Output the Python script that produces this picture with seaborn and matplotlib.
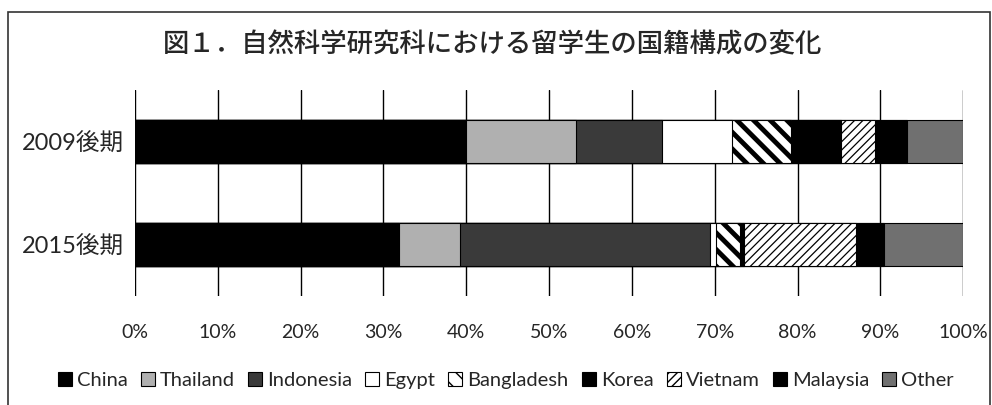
import pandas as pd
import seaborn as sns
import matplotlib.pyplot as plt
from matplotlib.patches import Rectangle


sns.set_theme(style='white')
plt.rcParams['font.family'] = ['Lato', 'Noto Sans CJK JP', 'DejaVu Sans']

periods = ['2009後期', '2015後期']
countries = ['China', 'Thailand', 'Indonesia', 'Egypt', 'Bangladesh',
             'Korea', 'Vietnam', 'Malaysia', 'Other']
share_2009 = [40.0, 13.2, 10.4, 8.5, 7.1, 6.0, 4.1, 3.9, 6.8]
share_2015 = [31.9, 7.3, 30.2, 0.8, 2.9, 0.4, 13.5, 3.4, 9.6]

colors = ['black', '#b0b0b0', '#3a3a3a', 'white', 'white',
          'black', 'white', 'black', '#707070']
hatches = [None, None, None, None, '\\\\', None, '////', None, None]
hatch_lw = [1, 1, 1, 1, 3.5, 1, 0.9, 1, 1]

df = pd.DataFrame({'period': periods})
cum = [0.0, 0.0]
for i, c in enumerate(countries):
    cum = [cum[0] + share_2009[i], cum[1] + share_2015[i]]
    df[c] = cum

fig = plt.figure(figsize=(9.92, 4.05), dpi=100)
ax = fig.add_axes([0.136, 0.269, 0.835, 0.509])

# stacked bars: draw cumulative totals from the longest to the shortest
handles = {}
for i in reversed(range(len(countries))):
    c = countries[i]
    with plt.rc_context({'hatch.linewidth': hatch_lw[i], 'hatch.color': 'black'}):
        sns.barplot(data=df, x=c, y='period', orient='h', color=colors[i],
                    saturation=1, width=0.42, edgecolor='black', linewidth=0.8,
                    hatch=hatches[i], ax=ax)
    cont = ax.containers[-1]
    for p in cont:
        if hasattr(p, 'set_hatch_linewidth'):
            p.set_hatch_linewidth(hatch_lw[i])
    handles[c] = cont.patches[0]

ax.set_xlim(0, 100)
ax.set_ylim(1.5, -0.5)
ax.set_xticks(range(0, 101, 10))
ax.set_xticklabels([f'{v}%' for v in range(0, 101, 10)])
ax.set_xlabel('')
ax.set_ylabel('')
ax.xaxis.grid(True, color='black', linewidth=1.0)
ax.set_axisbelow(True)
for s in ax.spines.values():
    s.set_visible(False)
ax.tick_params(axis='x', length=0, pad=20, labelsize=14)
ax.tick_params(axis='y', length=0, pad=8, labelsize=17)

fig.text(0.497, 0.889, '図１．自然科学研究科における留学生の国籍構成の変化',
         ha='center', va='center', fontsize=19,
         family=['Noto Sans CJK JP'], fontweight='medium')

fig.legend([handles[c] for c in countries], countries, loc='center',
           bbox_to_anchor=(0.51, 0.06), ncol=9, frameon=False, fontsize=14.5,
           handlelength=0.7, handleheight=0.7, handletextpad=0.25,
           columnspacing=0.65, borderpad=0)

fig.patches.append(Rectangle((0.008, -0.05), 0.99, 1.02,
                             transform=fig.transFigure, fill=False,
                             edgecolor='#333333', linewidth=1.2))

fig.savefig('out.png', dpi=100)
